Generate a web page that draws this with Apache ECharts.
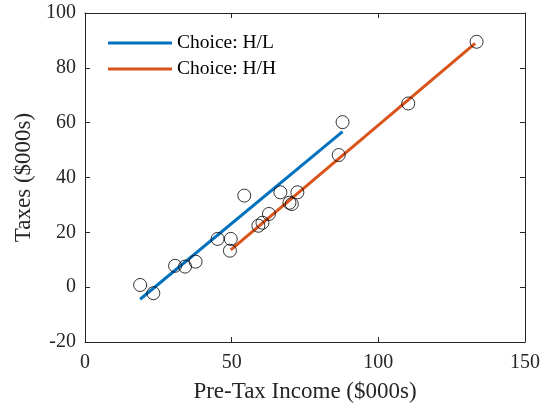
<!DOCTYPE html>
<html>
<head>
<meta charset="utf-8">
<script src="https://cdn.jsdelivr.net/npm/echarts@6/dist/echarts.min.js"></script>
<style>html,body{margin:0;padding:0;background:#fff}#c{width:549px;height:409px}</style>
</head>
<body>
<div id="c"></div>
<script>
const incomeX = [18.8, 23.3, 30.7, 34.1, 37.7, 45.2, 49.7, 49.4, 54.3, 59.1, 60.5, 62.7, 66.6, 69.7, 70.5, 72.4, 86.5, 87.8, 110.2, 133.5];
const taxesY = [0.8, -2.2, 7.8, 7.5, 9.3, 17.6, 17.6, 13.3, 33.4, 22.4, 23.5, 26.7, 34.6, 30.8, 30.3, 34.6, 48.2, 60.2, 67.0, 89.5];
const hlLineX = [18.8, 87.8];
const hlLineY = [-4.4, 56.7];
const hhLineX = [49.7, 133.0];
const hhLineY = [13.6, 88.9];
const seriesNames = ['Choice: H/L', 'Choice: H/H'];
const xTicks = [0, 50, 100, 150];
const yTicks = [-20, 0, 20, 40, 60, 80, 100];

const font = 'Liberation Serif';
const chart = echarts.init(document.getElementById('c'));
const axisCommon = {
  axisLine: {show: true, onZero: false, lineStyle: {color: '#262626', width: 1}},
  axisTick: {show: true, inside: true, length: 5, lineStyle: {color: '#262626'}},
  splitLine: {show: false}
};
chart.setOption({
  animation: false,
  grid: {left: 85, top: 13, right: 24, bottom: 67},
  legend: {
    data: seriesNames,
    orient: 'vertical',
    left: 103,
    top: 28,
    icon: 'rect',
    itemWidth: 64,
    itemHeight: 3,
    itemGap: 6,
    textStyle: {fontFamily: font, fontSize: 19.5, color: '#000'}
  },
  xAxis: [
    Object.assign({
      type: 'value', min: xTicks[0], max: xTicks[xTicks.length - 1], interval: 50,
      name: 'Pre-Tax Income ($000s)', nameLocation: 'middle', nameGap: 38,
      nameTextStyle: {fontFamily: font, fontSize: 23, color: '#262626'},
      axisLabel: {fontFamily: font, fontSize: 20, color: '#262626', margin: 11}
    }, axisCommon),
    Object.assign({
      type: 'value', position: 'top', min: 0, max: 150, interval: 50,
      axisLabel: {show: false}
    }, axisCommon)
  ],
  yAxis: [
    Object.assign({
      type: 'value', min: yTicks[0], max: yTicks[yTicks.length - 1], interval: 20,
      name: 'Taxes ($000s)', nameLocation: 'middle', nameGap: 48,
      nameTextStyle: {fontFamily: font, fontSize: 23, color: '#262626'},
      axisLabel: {fontFamily: font, fontSize: 20, color: '#262626', margin: 9}
    }, axisCommon),
    Object.assign({
      type: 'value', position: 'right', min: -20, max: 100, interval: 20,
      axisLabel: {show: false}
    }, axisCommon)
  ],
  series: [
    {
      name: seriesNames[0], type: 'line', xAxisIndex: 0, yAxisIndex: 0,
      data: hlLineX.map((x, i) => [x, hlLineY[i]]),
      showSymbol: false, symbol: 'none',
      lineStyle: {color: '#0072BD', width: 3}, itemStyle: {color: '#0072BD'}, z: 2
    },
    {
      name: seriesNames[1], type: 'line', xAxisIndex: 0, yAxisIndex: 0,
      data: hhLineX.map((x, i) => [x, hhLineY[i]]),
      showSymbol: false, symbol: 'none',
      lineStyle: {color: '#D95319', width: 3}, itemStyle: {color: '#D95319'}, z: 2
    },
    {
      name: 'data', type: 'scatter', xAxisIndex: 0, yAxisIndex: 0,
      data: incomeX.map((x, i) => [x, taxesY[i]]),
      symbol: 'circle', symbolSize: 13,
      itemStyle: {color: 'rgba(0,0,0,0)', borderColor: '#000', borderWidth: 1},
      z: 3
    }
  ]
});
</script>
</body>
</html>
